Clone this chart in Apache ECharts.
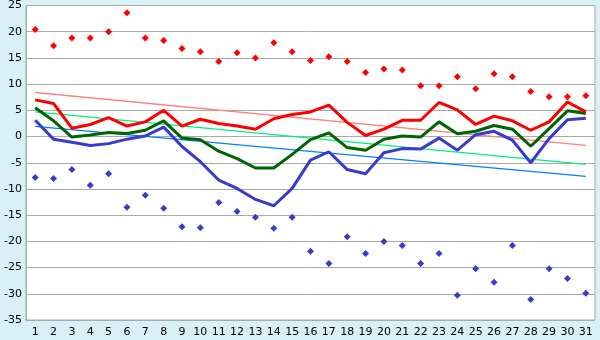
<!DOCTYPE html>
<html>
<head>
<meta charset="utf-8">
<script src="https://cdn.jsdelivr.net/npm/echarts@6/dist/echarts.min.js"></script>
<style>
  html, body { margin: 0; padding: 0; background: #d9f0f7; }
  #chart { width: 600px; height: 340px; }
</style>
</head>
<body>
<div id="chart"></div>
<script>
// categories 1..31
const days = ['1','2','3','4','5','6','7','8','9','10','11','12','13','14','15','16','17','18','19','20','21','22','23','24','25','26','27','28','29','30','31']

// scatter points (top red, bottom blue)
const highPts = [20.4, 17.3, 18.8, 18.8, 20.0, 23.6, 18.8, 18.3, 16.8, 16.2, 14.3, 16.0, 15.0, 17.9, 16.2, 14.5, 15.2, 14.3, 12.2, 12.9, 12.7, 9.7, 9.7, 11.4, 9.1, 12.0, 11.4, 8.6, 7.6, 7.6, 7.8]
const lowPts = [-7.8, -8.0, -6.3, -9.3, -7.1, -13.5, -11.2, -13.7, -17.2, -17.4, -12.6, -14.3, -15.4, -17.5, -15.4, -21.9, -24.2, -19.1, -22.3, -20.0, -20.8, -24.2, -22.3, -30.3, -25.2, -27.8, -20.8, -31.1, -25.2, -27.1, -29.9]

// thick lines
const redLine = [7.0, 6.3, 1.6, 2.3, 3.6, 2.0, 2.8, 5.0, 2.0, 3.3, 2.5, 2.0, 1.4, 3.4, 4.2, 4.7, 6.0, 2.7, 0.2, 1.4, 3.1, 3.1, 6.5, 5.1, 2.3, 3.9, 3.0, 1.2, 2.8, 6.6, 4.7]
const greenLine = [5.5, 3.0, -0.1, 0.3, 0.75, 0.6, 1.2, 3.0, -0.3, -0.6, -2.8, -4.2, -6.0, -6.0, -3.4, -0.6, 0.7, -2.1, -2.6, -0.5, 0.1, -0.1, 2.8, 0.55, 1.0, 2.1, 1.4, -1.85, 1.5, 4.9, 4.4]
const blueLine = [3.1, -0.5, -1.1, -1.7, -1.35, -0.5, 0.1, 1.8, -1.9, -4.8, -8.3, -9.9, -12.0, -13.2, -9.9, -4.5, -2.9, -6.3, -7.1, -3.1, -2.3, -2.4, -0.3, -2.6, 0.35, 1.0, -0.7, -5.0, -0.4, 3.2, 3.5]

// trend lines: value at day 1 and day 31
const redTrend = [8.4, -1.7]
const greenTrend = [4.7, -5.3]
const blueTrend = [1.95, -7.6]

const yTicks = { min: -35, max: 25, step: 5 }

let chart = echarts.init(document.getElementById('chart'))

let trend = (ends, color) => ({
    type: 'line',
    data: [[days[0], ends[0]], [days[days.length - 1], ends[1]]],
    showSymbol: false,
    lineStyle: { color: color, width: 1.3 },
    z: 2
})

let thick = (data, color) => ({
    type: 'line',
    data: data,
    showSymbol: false,
    lineStyle: { color: color, width: 3 },
    z: 3
})

let dots = (data, color) => ({
    type: 'scatter',
    data: data,
    symbol: 'diamond',
    symbolSize: 7,
    itemStyle: { color: color, opacity: 1 },
    z: 4
})

chart.setOption({
    animation: false,
    backgroundColor: '#d9f0f7',
    textStyle: { fontFamily: 'DejaVu Sans' },
    grid: {
        left: 26, right: 5, top: 5, bottom: 20,
        show: true, backgroundColor: '#fff', borderColor: '#aaa', borderWidth: 1
    },
    xAxis: {
        type: 'category',
        data: days,
        boundaryGap: true,
        axisLine: { lineStyle: { color: '#aaa' } },
        axisTick: { alignWithLabel: true, length: 5, lineStyle: { color: '#000' } },
        axisLabel: { color: '#000', fontSize: 11, margin: 7, interval: 0 }
    },
    yAxis: {
        type: 'value',
        min: yTicks.min, max: yTicks.max, interval: yTicks.step,
        axisLine: { show: true, lineStyle: { color: '#aaa' } },
        axisTick: { show: false },
        axisLabel: { color: '#000', fontSize: 11, margin: 4 },
        splitLine: { lineStyle: { color: '#aaa' } }
    },
    series: [
        trend(redTrend, '#ff7f7f'),
        trend(greenTrend, '#00f080'),
        trend(blueTrend, '#0080ff'),
        thick(blueLine, '#3a3acc'),
        thick(greenLine, '#006400'),
        thick(redLine, '#ff0000'),
        dots(highPts, '#ff0000'),
        dots(lowPts, '#3a3acc')
    ]
})
</script>
</body>
</html>
